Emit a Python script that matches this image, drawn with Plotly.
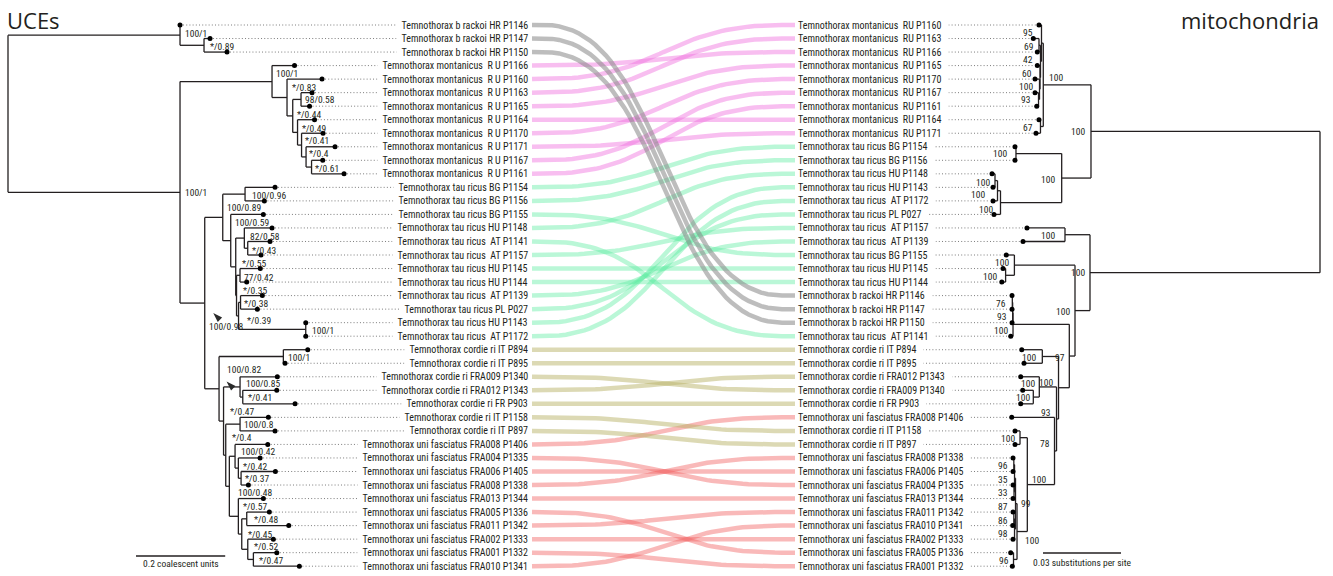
import plotly.graph_objects as go

# ---------------------------------------------------------------- data ----
# UCE species tree (branch lengths in coalescent units) and
# mitochondrial tree (branch lengths in substitutions per site), Newick.
UCE_TREE = (
    "((P1146:0,(P1147:0.0135,P1150:0.0516)B1:0.0538)B0:0.3857,"
    "((P1166:0.0504,(P1160:0.0785,((P1163:0.0247,P1165:0.0191)C:0.0186,"
    "(P1164:0.0381,(P1170:0.0482,(P1171:0.0650,(P1167:0.0251,P1161:0.0729)G:0.0123)F:0.0101)E:0.0090)D:0.0108)B:0.0128)A:0.0336)M0:0.2063,"
    "(((P1154:0.0673,P1156:0.0433)BGp:0.0500,(P1155:0.0731,((P1148:0.0621,(P1141:0.0500,P1157:0.0298)Y:0.0076)X:0.0193,"
    "((P1145:0.0455,P1144:0.0150)Z:0.0078,((P1139:0.0489,P027:0.0377)Q:0.0045,(P1143:0,P1172:0)Hp:0.1507)P:0.0045)O:0.0018)W:0.0112)U:0.0179)T:0.0404,"
    "((P894:0.0547,P895:0.0038)Cp1:0.1442,((P1340:0.0836,(P1343:0.0762,P903:0.1173)C2:0.0061)C1:0.0370,"
    "((P1158:0.0635,P897:0.0785)Cp2:0.0321,((P1406:0.0733,(P1335:0.0487,(P1405:0.0769,P1338:0.0164)U3:0.0061)U2:0.0074)U1:0.0128,"
    "(P1344:0.0561,((P1336:0.0507,P1342:0.0942)U6:0.0112,(P1333:0.0574,(P1332:0.0525,P1341:0.1031)U8:0.0126)U7:0.0135)U5:0.0076)U4:0.0202)V4:0.0081)V3:0.0049)V2:0.0101)V:0.0321)S:0.0554)R:0.3857);"
)

MITO_TREE = (
    "((((P1160:0.00096,((P1163:0.00219,P1166:0.00065)J1:0.00058,"
    "(P1165:0.00104,(P1170:0.00173,(P1167:0.00135,P1161:0.00069)H2:0.00038)H:0.00019)I:0.00019)J:0.00038)K:0.00069,"
    "(P1164:0.00058,P1171:0.00173)L:0.00108)M:0.01835,"
    "((P1154:0.00038,P1156:0.00038)BGr:0.01758,"
    "(((P1148:0.00115,P1143:0.00077)a1:0.00096,P1172:0.00173)a2:0.00115,P027:0.00250)T2:0.02354)T1:0.01127)MT1:0.08808,"
    "((P1157:0.01462,P1139:0.01615)pr:0.00962,"
    "((P1155:0.00312,(P1145:0.00100,P1144:0.00146)g3:0.00338)Q3:0.02331,"
    "((((P1146:0.00012,P1147:0.00012)b1:0.00012,P1150:0.00023)b2:0.00015,P1141:0.00088)BR:0.02165,"
    "((P894:0.00792,P895:0.00704)c1:0.00623,"
    "((P1343:0.00715,(P1340:0.00408,P903:0.00485)inner:0.00231)c3:0.00662,"
    "(P1406:0.01646,((P1158:0.00192,P897:0.00192)cIT:0.00281,"
    "((((P1338:0.00031,P1405:0.00031)n1:0.00027,(P1335:0.00038,P1344:0.00038)n3:0.00019)A1:0.00038,"
    "((P1342:0.00031,P1341:0.00042)n4:0.00027,P1333:0.00058)A2:0.00038)A:0.00058,"
    "(P1336:0.00108,P1332:0.00046)B:0.00135)U:0.00396)u0:0.01046)Y:0.00077)X:0.00077)CU0:0.00415)Q4:0.00219)Q2:0.00577)Q1:0.08846);"
)

# bootstrap / local posterior supports on the UCE tree
UCE_SUPPORT = {
    "B0": "100/1", "B1": "*/0.89", "R": "100/1", "M0": "100/1", "A": "*/0.83",
    "C": "98/0.58", "B": "*/0.44", "D": "*/0.49", "E": "*/0.41", "F": "*/0.4",
    "G": "*/0.61", "S": "100/0.98", "T": "100/0.89", "BGp": "100/0.96",
    "U": "100/0.59", "X": "82/0.58", "Y": "*/0.43", "W": "*/0.55", "Z": "77/0.42",
    "O": "*/0.35", "Q": "*/0.38", "P": "*/0.39", "Hp": "100/1", "V": "100/0.82",
    "Cp1": "100/1", "C1": "100/0.85", "C2": "*/0.41", "V2": "*/0.47",
    "Cp2": "100/0.8", "V3": "*/0.4", "U1": "100/0.42", "U2": "*/0.42",
    "U3": "*/0.37", "V4": "100/0.48", "U4": "*/0.57", "U6": "*/0.48",
    "U5": "*/0.45", "U7": "*/0.52", "U8": "*/0.47",
}

# bootstrap supports on the mitochondrial tree
MITO_SUPPORT = {
    "MT1": "100", "M": "100", "K": "95", "J1": "69", "J": "42", "I": "60",
    "H": "100", "H2": "93", "L": "67", "T1": "100", "BGr": "100", "a1": "100",
    "a2": "100", "T2": "100", "Q1": "100", "pr": "100", "Q2": "100", "Q3": "100",
    "g3": "100", "Q4": "97", "b1": "76", "b2": "93", "BR": "100", "CU0": "100",
    "c1": "100", "X": "93", "c3": "100", "inner": "100", "Y": "78", "cIT": "100",
    "u0": "100", "n1": "96", "A1": "35", "n3": "33", "A": "87", "n4": "86",
    "A2": "98", "B": "96", "U": "99",
}
MITO_STEM_SUPPORT = {"U": "100"}

# specimen -> (species, locality)
TAXA = {
    "P1146": ("b rackoi", "HR"), "P1147": ("b rackoi", "HR"), "P1150": ("b rackoi", "HR"),
    "P1160": ("montanicus", "RU"), "P1161": ("montanicus", "RU"), "P1163": ("montanicus", "RU"),
    "P1164": ("montanicus", "RU"), "P1165": ("montanicus", "RU"), "P1166": ("montanicus", "RU"),
    "P1167": ("montanicus", "RU"), "P1170": ("montanicus", "RU"), "P1171": ("montanicus", "RU"),
    "P1154": ("tau ricus", "BG"), "P1155": ("tau ricus", "BG"), "P1156": ("tau ricus", "BG"),
    "P1143": ("tau ricus", "HU"), "P1144": ("tau ricus", "HU"), "P1145": ("tau ricus", "HU"),
    "P1148": ("tau ricus", "HU"), "P1139": ("tau ricus", "AT"), "P1141": ("tau ricus", "AT"),
    "P1157": ("tau ricus", "AT"), "P1172": ("tau ricus", "AT"), "P027": ("tau ricus", "PL"),
    "P894": ("cordie ri", "IT"), "P895": ("cordie ri", "IT"), "P897": ("cordie ri", "IT"),
    "P1158": ("cordie ri", "IT"), "P1340": ("cordie ri", "FRA009"),
    "P1343": ("cordie ri", "FRA012"), "P903": ("cordie ri", "FR"),
    "P1406": ("uni fasciatus", "FRA008"), "P1335": ("uni fasciatus", "FRA004"),
    "P1405": ("uni fasciatus", "FRA006"), "P1338": ("uni fasciatus", "FRA008"),
    "P1344": ("uni fasciatus", "FRA013"), "P1336": ("uni fasciatus", "FRA005"),
    "P1342": ("uni fasciatus", "FRA011"), "P1333": ("uni fasciatus", "FRA002"),
    "P1332": ("uni fasciatus", "FRA001"), "P1341": ("uni fasciatus", "FRA010"),
}

SCALE_UCE = 0.2      # coalescent units
SCALE_MITO = 0.03    # substitutions per site

# ------------------------------------------------------------- styling ----
W, H = 1333, 576
ROW_TOP, ROW_STEP = 25.0, 13.53
LEFT_ROOT_X, LEFT_PX = 8.0, 446.0
RIGHT_ROOT_X, RIGHT_PX = 1320.0, 2600.0
LEFT_TEXT_END, RIGHT_TEXT_START = 529.0, 797.0
LINK_START, LINK_END = 532.0, 795.0

NARROW = "Liberation Sans Narrow, Arial Narrow, Roboto Condensed, DejaVu Sans Condensed, sans-serif"
INK = "#231f20"
SPECIES_COLOR = {
    "b rackoi": "rgba(135,135,135,0.55)",
    "montanicus": "rgba(240,110,222,0.45)",
    "tau ricus": "rgba(90,235,160,0.42)",
    "cordie ri": "rgba(185,180,105,0.5)",
    "uni fasciatus": "rgba(242,100,100,0.45)",
}
# links are stacked in this order (last on top)
LINK_ORDER = ["uni fasciatus", "cordie ri", "tau ricus", "montanicus", "b rackoi"]

# label nudges (dx, dy[, anchor]) relative to the node point
UCE_NUDGE = {
    "B0": (3, -1.5), "B1": (4, 1), "R": (3, 0), "M0": (2, -8), "A": (3, -10),
    "B": (2.5, -1.5), "C": (1.5, 0.5), "D": (2.5, -4), "E": (1.5, -5), "F": (1, -3.5),
    "G": (1.5, 1), "S": (2.5, 23), "T": (2.5, -9.5), "BGp": (4.5, 1), "U": (2.5, -18),
    "X": (3.5, -1.5), "Y": (2.5, 2), "W": (4, -3), "Z": (2, 2), "O": (4, -5),
    "Q": (1.5, 1), "P": (6.5, 5), "Hp": (4, 1), "V": (6, -19), "Cp1": (3, 1),
    "C1": (4, -3), "C2": (3, 0.5), "Cp2": (2, 0), "V2": (4.5, -10), "V3": (4, -17.5),
    "V4": (6.7, 6.5), "U1": (4, -4.5), "U2": (2.4, -2), "U3": (2.3, 0),
    "U4": (2.4, -10), "U5": (4, 0), "U6": (5, 0.5), "U7": (4, -2.5), "U8": (3.4, 0.7),
}
MITO_NUDGE = {
    "MT1": (-4, 0), "M": (4, -7, "left"), "K": (-6.5, -11), "J1": (-3, 1.4),
    "J": (-6, -1.4), "I": (-6, -4), "H": (-4.5, -2.6), "H2": (-5.5, 0.5),
    "L": (-5.5, 1.2), "T1": (-4.7, 1), "BGr": (-6.7, 0), "a1": (-3, 2),
    "a2": (-11, 3.5), "T2": (-5.5, 6.7), "Q1": (-3, 0), "pr": (-8, 1),
    "Q2": (-3.3, 1), "Q3": (-3, -2.5), "g3": (-6.3, 1.3), "Q4": (-2.3, 1),
    "b1": (-4, 1), "b2": (-4, 4), "BR": (-3, 6), "CU0": (-3.5, -5), "c1": (-4, 1),
    "X": (-3.5, -6), "c3": (-2.6, -3.6), "inner": (-1.6, 0.3), "Y": (-2.5, -7.5),
    "cIT": (-3.3, 0.7), "u0": (3, -5, "left"), "n1": (-3.8, 0.3), "A1": (-4.5, 0.8),
    "n3": (-4, 1), "A": (-5.5, 3), "n4": (-4, 1.2), "A2": (-4.5, 4.4), "B": (-3, 1.4),
    "U": (2, -28, "left"),
}
MITO_STEM_NUDGE = {"U": (6, 9, "left")}


# ------------------------------------------------------------- helpers ----
def parse_newick(text):
    s = text.strip().rstrip(";")
    pos = 0

    def read():
        nonlocal pos
        kids = []
        if s[pos] == "(":
            pos += 1
            kids.append(read())
            while s[pos] == ",":
                pos += 1
                kids.append(read())
            pos += 1  # ')'
        start = pos
        while pos < len(s) and s[pos] not in ":,()":
            pos += 1
        name = s[start:pos]
        length = 0.0
        if pos < len(s) and s[pos] == ":":
            pos += 1
            start = pos
            while pos < len(s) and s[pos] not in ",()":
                pos += 1
            length = float(s[start:pos])
        return {"name": name, "length": length, "children": kids}

    return read()


def place(tree, root_x, px_per_unit, direction):
    leaves, nodes = [], []

    def walk(n, depth):
        n["x"] = root_x + direction * depth * px_per_unit
        nodes.append(n)
        if not n["children"]:
            n["y"] = ROW_TOP + len(leaves) * ROW_STEP
            leaves.append(n)
            return
        for c in n["children"]:
            walk(c, depth + c["length"])
        n["y"] = (n["children"][0]["y"] + n["children"][-1]["y"]) / 2

    walk(tree, 0.0)
    return leaves, nodes


def branch_path(nodes):
    xs, ys = [], []
    for n in nodes:
        if not n["children"]:
            continue
        xs += [n["x"], n["x"], None]
        ys += [n["children"][0]["y"], n["children"][-1]["y"], None]
        for c in n["children"]:
            xs += [n["x"], c["x"], None]
            ys += [c["y"], c["y"], None]
    return xs, ys


def link_curve(y0, y1, steps=48, stub=13.0):
    xa, xb = LINK_START + stub, LINK_END - stub
    xm = (xa + xb) / 2
    xs, ys = [LINK_START], [y0]
    for i in range(steps + 1):
        t = i / steps
        a, b, c, d = (1 - t) ** 3, 3 * (1 - t) ** 2 * t, 3 * (1 - t) * t ** 2, t ** 3
        xs.append(a * xa + (b + c) * xm + d * xb)
        ys.append((a + b) * y0 + (c + d) * y1)
    xs.append(LINK_END)
    ys.append(y1)
    return xs, ys


def taxon_text(tid, side):
    sp, loc = TAXA[tid]
    wide = sp == "montanicus" or loc == "AT"
    gap = "\u00a0 " if wide else " "
    if side == "left":
        shown = "R U" if loc == "RU" else loc
        return "\u00a0\u00a0Temnothorax " + sp + gap + shown + " " + tid
    return "Temnothorax " + sp + gap + loc + " " + tid + "\u00a0\u00a0\u00a0"


# -------------------------------------------------------------- layout ----
uce = parse_newick(UCE_TREE)
mito = parse_newick(MITO_TREE)
uce_leaves, uce_nodes = place(uce, LEFT_ROOT_X, LEFT_PX, +1)
mito_leaves, mito_nodes = place(mito, RIGHT_ROOT_X, RIGHT_PX, -1)
uce_by = {n["name"]: n for n in uce_nodes if n["name"]}
mito_by = {n["name"]: n for n in mito_nodes if n["name"]}

fig = go.Figure()

# coloured links between the two leaf sets
for species in LINK_ORDER:
    for leaf in uce_leaves:
        tid = leaf["name"]
        if TAXA[tid][0] != species:
            continue
        partner = mito_by[tid]
        xs, ys = link_curve(leaf["y"], partner["y"])
        fig.add_trace(go.Scatter(
            x=xs, y=ys, mode="lines", hoverinfo="skip", showlegend=False,
            line=dict(color=SPECIES_COLOR[species], width=4.5, shape="linear"),
        ))

# dotted leaders from tips to labels
lx, ly = [], []
for leaf in uce_leaves:
    lx += [leaf["x"] + 3, LEFT_TEXT_END - 1, None]
    ly += [leaf["y"], leaf["y"], None]
rx, ry = [], []
for leaf in mito_leaves:
    rx += [RIGHT_TEXT_START + 1, leaf["x"] - 3, None]
    ry += [leaf["y"], leaf["y"], None]
for xs, ys in ((lx, ly), (rx, ry)):
    fig.add_trace(go.Scatter(
        x=xs, y=ys, mode="lines", hoverinfo="skip", showlegend=False,
        line=dict(color="#6d6d6d", width=0.9, dash="1px,2.2px"),
    ))

# branches
for nodes in (uce_nodes, mito_nodes):
    xs, ys = branch_path(nodes)
    fig.add_trace(go.Scatter(
        x=xs, y=ys, mode="lines", hoverinfo="skip", showlegend=False,
        line=dict(color=INK, width=1.3),
    ))

# tip dots
for leaves in (uce_leaves, mito_leaves):
    fig.add_trace(go.Scatter(
        x=[l["x"] for l in leaves], y=[l["y"] for l in leaves], mode="markers",
        hoverinfo="skip", showlegend=False,
        marker=dict(color="black", size=5, line=dict(width=0)),
    ))

# arrowheads marking the two focal UCE clades
arrow_nodes = [("S", 8.5, 10), ("V", 7.5, -7.3)]
fig.add_trace(go.Scatter(
    x=[uce_by[k]["x"] + dx for k, dx, dy in arrow_nodes],
    y=[uce_by[k]["y"] + dy for k, dx, dy in arrow_nodes],
    mode="markers", hoverinfo="skip", showlegend=False,
    marker=dict(symbol="arrow", angle=-45, size=10, color="#2a2a2a", line=dict(width=0)),
))

# scale bars
bar_l0 = 136.0
bar_r_mid = 1082.0
fig.add_trace(go.Scatter(
    x=[bar_l0, bar_l0 + SCALE_UCE * LEFT_PX, None,
       bar_r_mid - SCALE_MITO * RIGHT_PX / 2, bar_r_mid + SCALE_MITO * RIGHT_PX / 2],
    y=[556, 556, None, 553, 553], mode="lines", hoverinfo="skip", showlegend=False,
    line=dict(color=INK, width=1.4),
))

annotations = []

# leaf labels (white boxes hide the leader ends)
for leaf in uce_leaves:
    annotations.append(dict(
        x=LEFT_TEXT_END, y=leaf["y"], text=taxon_text(leaf["name"], "left"),
        xanchor="right", yanchor="middle", showarrow=False, bgcolor="white",
        borderpad=0, font=dict(family=NARROW, size=10, color=INK),
    ))
for leaf in mito_leaves:
    annotations.append(dict(
        x=RIGHT_TEXT_START, y=leaf["y"], text=taxon_text(leaf["name"], "right"),
        xanchor="left", yanchor="middle", showarrow=False, bgcolor="white",
        borderpad=0, font=dict(family=NARROW, size=10, color=INK),
    ))


def support_note(node, text, nudge, default_anchor):
    dx, dy = nudge[0], nudge[1]
    anchor = nudge[2] if len(nudge) > 2 else default_anchor
    return dict(
        x=node["x"] + dx, y=node["y"] + dy, text=text, xanchor=anchor,
        yanchor="middle", showarrow=False,
        font=dict(family=NARROW, size=9.5, color=INK),
    )


for name, txt in UCE_SUPPORT.items():
    annotations.append(support_note(uce_by[name], txt, UCE_NUDGE.get(name, (3, 0.5)), "left"))
for name, txt in MITO_SUPPORT.items():
    annotations.append(support_note(mito_by[name], txt, MITO_NUDGE.get(name, (-4, 0.5)), "right"))
for name, txt in MITO_STEM_SUPPORT.items():
    annotations.append(support_note(mito_by[name], txt, MITO_STEM_NUDGE[name], "left"))

# titles and scale captions
annotations += [
    dict(x=5, y=20, text="UCEs", xanchor="left", yanchor="middle", showarrow=False,
         font=dict(family="Open Sans, Lato, sans-serif", size=22, color=INK)),
    dict(x=1321, y=20, text="mitochondria", xanchor="right", yanchor="middle", showarrow=False,
         font=dict(family="Open Sans, Lato, sans-serif", size=22, color=INK)),
    dict(x=bar_l0 + SCALE_UCE * LEFT_PX / 2, y=563, text=f"{SCALE_UCE} coalescent units",
         xanchor="center", yanchor="middle", showarrow=False,
         font=dict(family=NARROW, size=9.5, color=INK)),
    dict(x=bar_r_mid, y=562, text=f"{SCALE_MITO} substitutions per site",
         xanchor="center", yanchor="middle", showarrow=False,
         font=dict(family=NARROW, size=9.5, color=INK)),
]

fig.update_layout(
    width=W, height=H, autosize=False,
    margin=dict(l=0, r=0, t=0, b=0, pad=0),
    paper_bgcolor="white", plot_bgcolor="white",
    xaxis=dict(range=[0, W], visible=False, fixedrange=True),
    yaxis=dict(range=[H, 0], visible=False, fixedrange=True),
    annotations=annotations,
    showlegend=False,
)

fig.write_html("out.html")
